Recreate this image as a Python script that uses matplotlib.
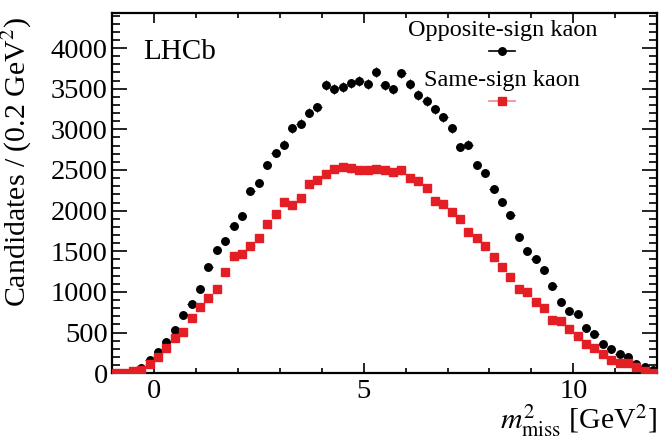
import numpy as np
import matplotlib
matplotlib.use("Agg")
import matplotlib.pyplot as plt

plt.rcParams['font.family'] = ['Liberation Serif', 'DejaVu Serif']
plt.rcParams['mathtext.fontset'] = 'stix'

# bin centres of m^2_miss (0.2 GeV^2 bins)
bin_centers = np.round(np.arange(-0.9, 12.0, 0.2), 1)

opposite_sign = [5, 8, 20, 62, 160, 255, 378, 529, 714, 853,
                 1030, 1301, 1510, 1621, 1809, 1929, 2236, 2338, 2564, 2708,
                 2810, 3015, 3068, 3204, 3272, 3545, 3499, 3520, 3565, 3598,
                 3557, 3701, 3541, 3491, 3688, 3561, 3420, 3348, 3245, 3151,
                 3015, 2782, 2810, 2560, 2466, 2269, 2101, 1941, 1680, 1505,
                 1399, 1268, 1071, 874, 763, 734, 562, 484, 365, 292,
                 238, 201, 119, 74, 37]

same_sign = [4, 4, 21, 45, 114, 201, 311, 434, 508, 680,
             812, 925, 1037, 1247, 1444, 1469, 1567, 1665, 1838, 1961,
             2108, 2072, 2158, 2328, 2379, 2453, 2507, 2539, 2519, 2502,
             2502, 2515, 2502, 2474, 2494, 2406, 2365, 2281, 2121, 2080,
             1982, 1895, 1739, 1665, 1563, 1428, 1305, 1183, 1037, 1001,
             874, 804, 656, 644, 546, 459, 361, 312, 234, 168,
             127, 127, 78, 29, 4]

x_ticks = [0, 5, 10]
y_ticks = [0, 500, 1000, 1500, 2000, 2500, 3000, 3500, 4000]

RED = '#e31e24'

fig = plt.figure(figsize=(6.7, 4.38), dpi=100)
ax = fig.add_axes([0.167, 0.148, 0.814, 0.822])

os_arr = np.array(opposite_sign, dtype=float)
ss_arr = np.array(same_sign, dtype=float)

ax.errorbar(bin_centers, os_arr, xerr=0.1, yerr=np.sqrt(os_arr), fmt='o',
            color='black', ms=5.4, elinewidth=0.8, capsize=0, zorder=3)
ax.errorbar(bin_centers, ss_arr, xerr=0.1, yerr=np.sqrt(ss_arr), fmt='s',
            color=RED, ecolor='#f08a8c', ms=5.7, elinewidth=0.8, capsize=0, zorder=4)

ax.set_xlim(-1, 12)
ax.set_ylim(0, 4430)
ax.set_xticks(x_ticks)
ax.set_xticklabels([str(t) for t in x_ticks])
ax.set_yticks(y_ticks)
ax.set_yticklabels([str(t) for t in y_ticks])
ax.set_xticks(np.arange(-1, 13, 1), minor=True)
ax.set_yticks(np.arange(0, 4430, 100), minor=True)

ax.tick_params(axis='both', which='both', direction='in', top=True, right=True,
               labelsize=20.5, width=1.2)
ax.tick_params(axis='y', which='both', pad=3)
ax.tick_params(axis='x', which='both', pad=4)
ax.tick_params(axis='y', which='major', length=11)
ax.tick_params(axis='y', which='minor', length=5.5)
ax.tick_params(axis='x', which='major', length=7.5)
ax.tick_params(axis='x', which='minor', length=3.8)
for s in ax.spines.values():
    s.set_linewidth(1.6)

ax.set_ylabel('Candidates / (0.2 GeV$^{2}$)', fontsize=21.5)
ax.yaxis.set_label_coords(-0.143, 0.99, transform=ax.transAxes)
ax.yaxis.label.set_horizontalalignment('right')
ax.set_xlabel(r'$m^{2}_{\rm miss}$ [GeV$^{2}$]', fontsize=21.5)
ax.xaxis.set_label_coords(1.0, -0.083)
ax.xaxis.label.set_horizontalalignment('right')

ax.text(0.057, 0.893, 'LHCb', transform=ax.transAxes, fontsize=21,
        ha='left', va='center')

# legend drawn manually (text centred above marker)
leg_x = 0.716
for label, y_text, y_mark, fmt, col, lcol, ms in [
        ('Opposite-sign kaon', 0.953, 0.894, 'o', 'black', 'black', 5.4),
        ('Same-sign kaon', 0.814, 0.756, 's', RED, '#f08a8c', 5.7)]:
    ax.text(leg_x, y_text, label, transform=ax.transAxes, fontsize=17.5,
            ha='center', va='center')
    ax.plot([leg_x - 0.024, leg_x + 0.024], [y_mark, y_mark], color=lcol,
            lw=1.2, transform=ax.transAxes, clip_on=False)
    ax.plot([leg_x], [y_mark], marker=fmt, color=col, ms=ms,
            transform=ax.transAxes, clip_on=False, linestyle='none')

fig.savefig('out.png', dpi=100)
